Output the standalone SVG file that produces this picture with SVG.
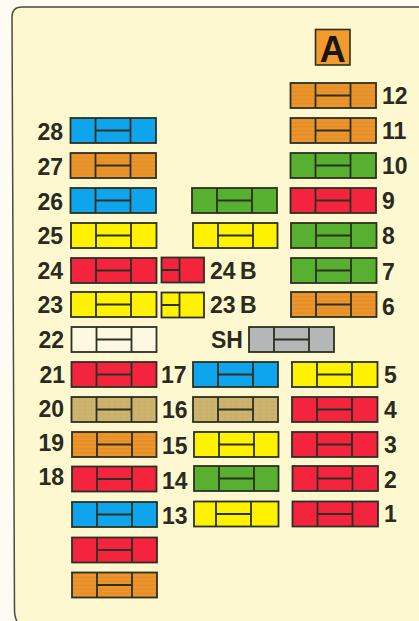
<svg xmlns="http://www.w3.org/2000/svg" width="419" height="621" viewBox="0 0 419 621">
<style>
.f{stroke:#2c3020;stroke-width:1.8}
.l{fill:none;stroke:#2c3020;stroke-width:1.8}
.blue{fill:#0ea5ec}.red{fill:#f4243f}.green{fill:#58b030}.yellow{fill:#fff200}.white{fill:#fdf8e2}.grey{fill:#b4b6b8}
.orange{fill:url(#po)}.tan{fill:url(#pt)}
text{font-family:"Liberation Sans",Arial,sans-serif;font-weight:700;font-size:23px;fill:#2a2b1e}
</style>
<defs>
<pattern id="po" width="8" height="4" patternUnits="userSpaceOnUse"><rect width="8" height="4" fill="#ee9528"/><rect width="8" height="1.500" fill="#e18d30"/></pattern>
<pattern id="pt" width="6" height="4" patternUnits="userSpaceOnUse"><rect width="6" height="4" fill="#cdb46e"/><rect width="3" height="2" fill="#c8ae68"/></pattern>
<g id="fz"><path class="l" d="M25 0V25M60 0V25M25 12.500H60"/></g>
</defs>
<rect width="419" height="621" fill="#fdfbf2"/>
<path d="M419 7H22Q12 7 12 17L14.500 610Q14.500 621 22 621H419Z" fill="#fdf8cf"/>
<path d="M419 7H22Q12 7 12 17L14.500 610Q14.500 617 17 621" fill="none" stroke="#4a4c3c" stroke-width="1.500"/>
<g id="connectors"/>
<g id="box-a"><rect x="315.500" y="29.500" width="34.500" height="35.500" fill="#f39a2d" stroke="#2c3020" stroke-width="1.600"/><text x="332.800" y="62" text-anchor="middle" style="font-size:36px;fill:#1a1610">A</text></g>
<g id="n12"><g transform="translate(290.500 83)"><rect class="f orange" width="85.500" height="25"/><use href="#fz"/></g><text x="382" y="104">12</text></g>
<g id="n11"><g transform="translate(290.500 118)"><rect class="f orange" width="85.500" height="25"/><use href="#fz"/></g><text x="382" y="139">11</text></g>
<g id="n10"><g transform="translate(290.500 153)"><rect class="f green" width="85.500" height="25"/><use href="#fz"/></g><text x="382" y="174">10</text></g>
<g id="n9"><g transform="translate(290.500 188)"><rect class="f red" width="85.500" height="25"/><use href="#fz"/></g><text x="382" y="209">9</text></g>
<g id="n8"><g transform="translate(291 223)"><rect class="f green" width="85.500" height="25"/><use href="#fz"/></g><text x="382" y="244">8</text></g>
<g id="n7"><g transform="translate(291 258)"><rect class="f green" width="85.500" height="25"/><use href="#fz"/></g><text x="382" y="280">7</text></g>
<g id="n6"><g transform="translate(291 292)"><rect class="f orange" width="85.500" height="25"/><use href="#fz"/></g><text x="382" y="315">6</text></g>
<g id="n5"><g transform="translate(292 362)"><rect class="f yellow" width="85.500" height="25"/><use href="#fz"/></g><text x="384" y="383">5</text></g>
<g id="n4"><g transform="translate(292 397)"><rect class="f red" width="85.500" height="25"/><use href="#fz"/></g><text x="384" y="418">4</text></g>
<g id="n3"><g transform="translate(292 432)"><rect class="f red" width="85.500" height="25"/><use href="#fz"/></g><text x="384" y="453">3</text></g>
<g id="n2"><g transform="translate(292.500 466)"><rect class="f red" width="85.500" height="25"/><use href="#fz"/></g><text x="384" y="488">2</text></g>
<g id="n1"><g transform="translate(292.500 501.500)"><rect class="f red" width="85.500" height="25"/><use href="#fz"/></g><text x="384" y="522">1</text></g>
<g id="n28"><g transform="translate(70.500 118)"><rect class="f blue" width="85.500" height="25"/><use href="#fz"/></g><text x="63" y="140" text-anchor="end">28</text></g>
<g id="n27"><g transform="translate(70.500 153)"><rect class="f orange" width="85.500" height="25"/><use href="#fz"/></g><text x="63" y="175" text-anchor="end">27</text></g>
<g id="n26"><g transform="translate(70.500 188)"><rect class="f blue" width="85.500" height="25"/><use href="#fz"/></g><text x="63" y="210" text-anchor="end">26</text></g>
<g id="n25"><g transform="translate(71 223)"><rect class="f yellow" width="85.500" height="25"/><use href="#fz"/></g><text x="63" y="244" text-anchor="end">25</text></g>
<g id="n24"><g transform="translate(71 258)"><rect class="f red" width="85.500" height="25"/><use href="#fz"/></g><text x="63" y="279" text-anchor="end">24</text></g>
<g id="n23"><g transform="translate(71 292)"><rect class="f yellow" width="85.500" height="25"/><use href="#fz"/></g><text x="63" y="313" text-anchor="end">23</text></g>
<g id="n22"><g transform="translate(71.500 327)"><rect class="f white" width="85" height="25"/><use href="#fz"/></g><text x="64" y="348" text-anchor="end">22</text></g>
<g id="n21"><g transform="translate(71.500 362)"><rect class="f red" width="85" height="25"/><use href="#fz"/></g><text x="65" y="383" text-anchor="end">21</text></g>
<g id="n20"><g transform="translate(71.500 397)"><rect class="f tan" width="85" height="25"/><use href="#fz"/></g><text x="64" y="417" text-anchor="end">20</text></g>
<g id="n19"><g transform="translate(72 432)"><rect class="f orange" width="84.500" height="25"/><use href="#fz"/></g><text x="64" y="451" text-anchor="end">19</text></g>
<g id="n18"><g transform="translate(72 466.500)"><rect class="f red" width="84.500" height="25"/><use href="#fz"/></g><text x="64" y="485" text-anchor="end">18</text></g>
<g id="fuse-a"><g transform="translate(72 502)"><rect class="f blue" width="85" height="25"/><use href="#fz"/></g></g>
<g id="fuse-b"><g transform="translate(72 537.500)"><rect class="f red" width="85" height="25"/><use href="#fz"/></g></g>
<g id="fuse-c"><g transform="translate(72 572.500)"><rect class="f orange" width="85" height="25"/><use href="#fz"/></g></g>
<g id="mid-26"><g transform="translate(192 188)"><rect class="f green" width="85" height="25"/><use href="#fz"/></g></g>
<g id="mid-25"><g transform="translate(193 223)"><rect class="f yellow" width="84.500" height="25"/><use href="#fz"/></g></g>
<g id="n24b"><rect class="f red" x="161.500" y="257.500" width="42.500" height="25"/><path class="l" d="M179.500 257.500V282.500M161.500 270H179.500"/><text x="210" y="279">24</text><text x="240" y="279">B</text></g>
<g id="n23b"><rect class="f yellow" x="161.500" y="292.500" width="42.500" height="25"/><path class="l" d="M179.500 292.500V317.500M161.500 305H179.500"/><text x="210" y="313">23</text><text x="240" y="313">B</text></g>
<g id="sh"><g transform="translate(249 327)"><rect class="f grey" width="85" height="25"/><use href="#fz"/></g><text x="211" y="348">SH</text></g>
<g id="n17"><g transform="translate(193 362)"><rect class="f blue" width="85" height="25"/><use href="#fz"/></g><text x="161" y="383">17</text></g>
<g id="n16"><g transform="translate(193 397)"><rect class="f tan" width="85" height="25"/><use href="#fz"/></g><text x="162" y="418">16</text></g>
<g id="n15"><g transform="translate(194 432)"><rect class="f yellow" width="84.500" height="25"/><use href="#fz"/></g><text x="162" y="454">15</text></g>
<g id="n14"><g transform="translate(194 466)"><rect class="f green" width="84.500" height="25"/><use href="#fz"/></g><text x="162" y="489">14</text></g>
<g id="n13"><g transform="translate(194 501.500)"><rect class="f yellow" width="84.500" height="25"/><path class="l" d="M22 0V25M57 0V25M22 12.500H57"/></g><text x="162" y="524">13</text></g>
</svg>
